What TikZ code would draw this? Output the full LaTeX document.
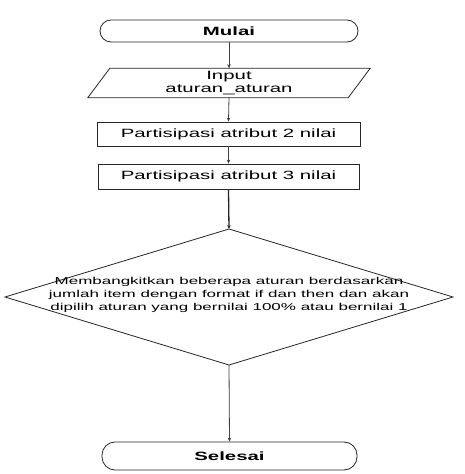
\documentclass[tikz,border=0pt]{standalone}
\usepackage{fontspec}
\setmainfont[FakeStretch=1.7]{Liberation Sans}
\usetikzlibrary{arrows.meta}
\begin{document}
\begin{tikzpicture}[x=1pt,y=1pt,
  every node/.style={font=\fontsize{12}{13.5}\selectfont, inner sep=0pt, align=center},
  term/.style={draw=black!85, line width=0.8pt, rounded corners=11pt, font=\fontsize{12}{13.5}\selectfont\bfseries},
  procbox/.style={draw=black!85, line width=0.8pt, minimum width=263pt, minimum height=24pt},
  conn/.style={draw=black!75, line width=0.8pt, -{Stealth[length=4pt,width=3.5pt]}},
  thickconn/.style={draw=black!85, line width=1.3pt, -{Stealth[length=4pt,width=3.5pt]}}
]
\useasboundingbox (0,0) rectangle (465,474);
\fill[white] (0,0) rectangle (465,474);
% terminators
\node[term, minimum width=258pt, minimum height=22pt] (mulai) at (229,443) {Mulai};
\node[term, rounded corners=13pt, minimum width=255pt, minimum height=28pt] (selesai) at (229.5,18) {Selesai};
% input parallelogram
\node[minimum width=260pt, minimum height=29pt] (input) at (229,391) {Input\\aturan\_aturan};
\draw[draw=black!85, line width=0.8pt]
  ([xshift=11pt]input.north west) -- ([xshift=11pt]input.north east) --
  ([xshift=-11pt]input.south east) -- ([xshift=-11pt]input.south west) -- cycle;
% process boxes
\node[procbox] (p2) at (228.5,340) {Partisipasi atribut 2 nilai};
\node[procbox, minimum width=261pt, minimum height=25pt] (p3) at (228.5,297.5) {Partisipasi atribut 3 nilai};
% decision
\coordinate (dtop) at (229,245);
\coordinate (dbot) at (229,109);
\coordinate (dleft) at (5,177);
\coordinate (dright) at (453,177);
\draw[draw=black!85, line width=0.8pt] (dtop) -- (dright) -- (dbot) -- (dleft) -- cycle;
\node[font=\fontsize{10}{13}\selectfont] (dtext) at (229,179) {Membangkitkan beberapa aturan berdasarkan\\jumlah item dengan format if dan then dan akan\\dipilih aturan yang bernilai 100\% atau bernilai 1};
% connectors
\draw[conn] (mulai.south) -- (input.north);
\draw[conn] (input.south) -- (p2.north);
\draw[conn] (p2.south) -- (p3.north);
\draw[thickconn] (p3.south) -- (dtop);
\draw[conn] (dbot) -- (selesai.north);
\end{tikzpicture}
\end{document}
